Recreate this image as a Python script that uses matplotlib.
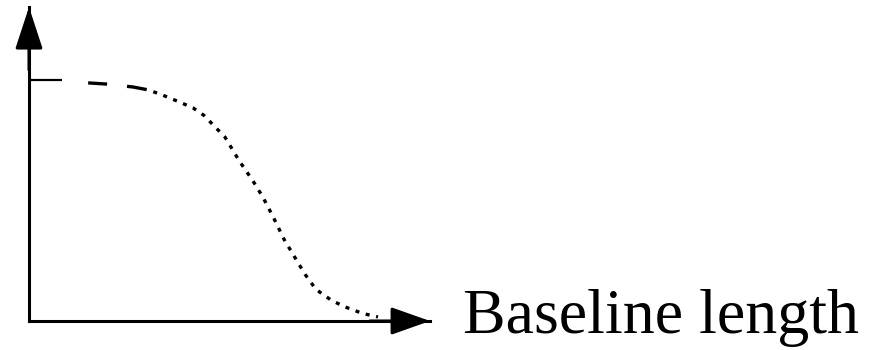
import matplotlib
matplotlib.use("Agg")
import matplotlib.pyplot as plt

# Plateau (solid) segment: baseline length vs. visibility
plateau_x = [0.0, 0.094]
plateau_y = [1.0, 1.0]

# Early part of the fall (long dashes)
early_x = [0.169, 0.223, 0.297, 0.337]
early_y = [0.988, 0.983, 0.971, 0.960]

# Remaining part of the fall (dotted)
baseline = [0.337, 0.374, 0.426, 0.469, 0.500, 0.529, 0.560,
            0.600, 0.640, 0.669, 0.700, 0.729, 0.760, 0.789, 0.820, 0.863,
            0.900, 0.954, 0.997]
visibility = [0.960, 0.942, 0.911, 0.884, 0.853, 0.809, 0.763,
              0.666, 0.581, 0.512, 0.425, 0.338, 0.263, 0.193, 0.131, 0.087,
              0.060, 0.031, 0.017]

axis_label = "Baseline length"

W, H = 871, 350
fig = plt.figure(figsize=(W / 100, H / 100), dpi=100)
fig.patch.set_facecolor("white")

ax = fig.add_axes([29 / W, (H - 321) / H, (430 - 29) / W, (321 - 7) / H])
ax.set_xlim(0, 401 / 350)
ax.set_ylim(0, 314 / 241)
ax.set_xticks([])
ax.set_yticks([])
for s in ("top", "right"):
    ax.spines[s].set_visible(False)
for s in ("left", "bottom"):
    ax.spines[s].set_linewidth(2.2)
    ax.spines[s].set_color("black")
ax.patch.set_alpha(0)

ax.plot(plateau_x, plateau_y, color="black", lw=1.6, solid_capstyle="butt")
ax.plot(early_x, early_y, color="black", lw=2.4,
        linestyle=(0, (5.7, 6.0, 6.0, 6.0)), dash_capstyle="butt")
ax.plot(baseline, visibility, color="black", lw=2.4,
        linestyle=(1.2, (1.2, 2.0)), dash_capstyle="butt")

# arrowheads
ax.annotate("", xy=(1, 0), xytext=(0.85, 0), xycoords="axes fraction",
            textcoords="axes fraction",
            arrowprops=dict(arrowstyle="-|>,head_length=2.4,head_width=0.85",
                            color="black", lw=2.2, shrinkA=0, shrinkB=0))
ax.annotate("", xy=(0, 1), xytext=(0, 0.8), xycoords="axes fraction",
            textcoords="axes fraction",
            arrowprops=dict(arrowstyle="-|>,head_length=2.6,head_width=0.85",
                            color="black", lw=2.2, shrinkA=0, shrinkB=0))

fig.text(463 / W, (H - 333) / H, axis_label, family="Liberation Serif",
         fontsize=46, va="baseline", ha="left", color="black")

fig.savefig("out.png", dpi=100, facecolor="white")
